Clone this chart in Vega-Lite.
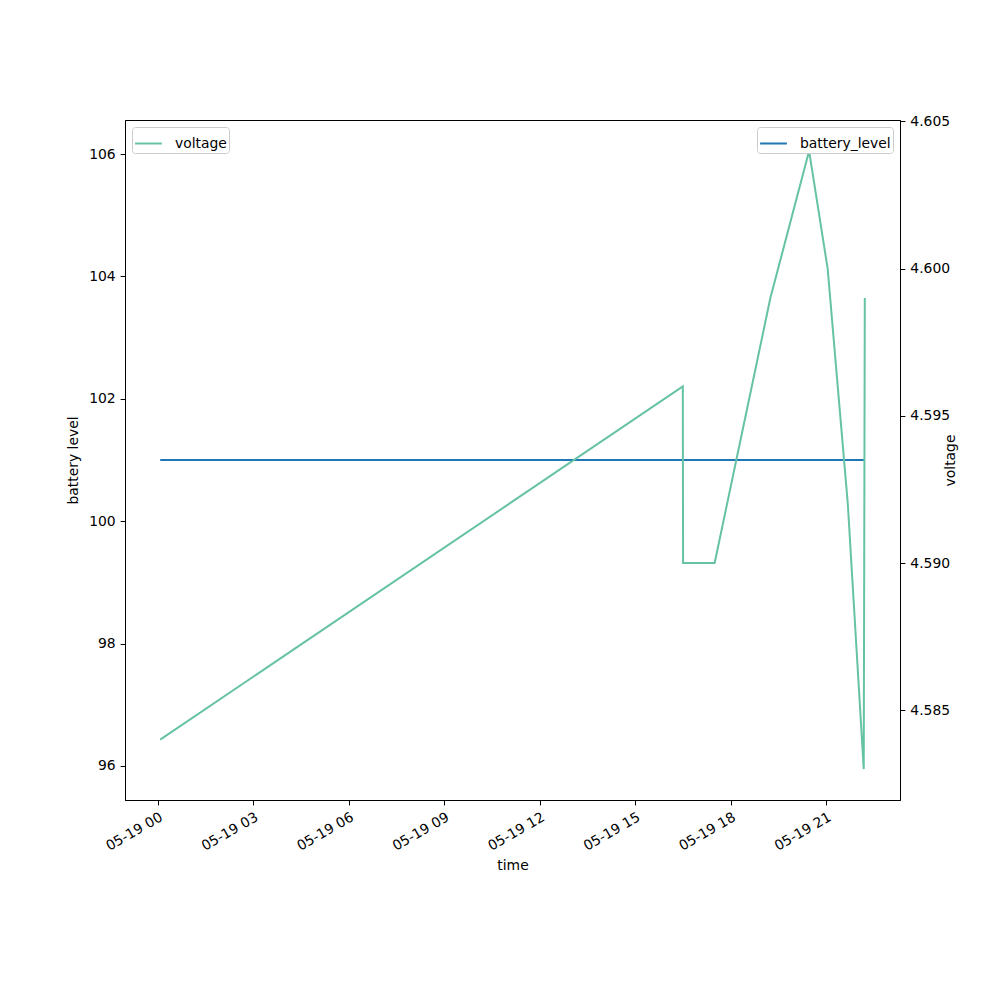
{
  "$schema": "https://vega.github.io/schema/vega-lite/v6.json",
  "autosize": "none",
  "padding": {"left": 125, "top": 120, "right": 100, "bottom": 200},
  "width": 775,
  "height": 680,
  "background": "white",
  "config": {
    "font": "DejaVu Sans",
    "view": {"stroke": "black", "strokeWidth": 1},
    "axis": {
      "grid": false,
      "domainColor": "black",
      "tickColor": "black",
      "labelColor": "black",
      "titleColor": "black",
      "labelFontSize": 13.9,
      "titleFontSize": 13.9,
      "titleFontWeight": "normal",
      "tickSize": 4.9,
      "labelPadding": 4.9
    },
    "legend": {
      "labelFontSize": 13.9,
      "labelColor": "black",
      "fillColor": "white",
      "strokeColor": "#cccccc",
      "cornerRadius": 3,
      "padding": 2,
      "offset": 7,
      "symbolType": "stroke",
      "symbolSize": 720,
      "symbolStrokeWidth": 2,
      "labelOffset": 12
    }
  },
  "data": {
    "values": [
      {"time": "2023-05-19T00:05:00", "battery_level": 101, "voltage": 4.584},
      {"time": "2023-05-19T16:30:00", "battery_level": 101, "voltage": 4.596},
      {"time": "2023-05-19T16:30:30", "battery_level": 101, "voltage": 4.590},
      {"time": "2023-05-19T17:30:00", "battery_level": 101, "voltage": 4.590},
      {"time": "2023-05-19T19:15:00", "battery_level": 101, "voltage": 4.599},
      {"time": "2023-05-19T20:28:00", "battery_level": 101, "voltage": 4.604},
      {"time": "2023-05-19T21:03:00", "battery_level": 101, "voltage": 4.600},
      {"time": "2023-05-19T21:41:00", "battery_level": 101, "voltage": 4.592},
      {"time": "2023-05-19T22:11:00", "battery_level": 101, "voltage": 4.583},
      {"time": "2023-05-19T22:13:00", "battery_level": 101, "voltage": 4.599}
    ]
  },
  "layer": [
    {
      "mark": {"type": "line", "strokeWidth": 2},
      "encoding": {
        "x": {
          "field": "time",
          "type": "temporal",
          "title": "time",
          "scale": {"padding": 35.2, "nice": false},
          "axis": {
            "format": "%m-%d %H",
            "tickCount": 8,
            "labelAngle": -30,
            "labelAlign": "right",
            "labelBaseline": "top",
            "titlePadding": 5
          }
        },
        "y": {
          "field": "battery_level",
          "type": "quantitative",
          "title": "battery level",
          "scale": {"domain": [95.444, 106.556], "zero": false, "nice": false},
          "axis": {"values": [96, 98, 100, 102, 104, 106], "orient": "left", "titlePadding": 8}
        },
        "color": {
          "datum": "battery_level",
          "scale": {"range": ["#1f77b4"]},
          "legend": {"orient": "top-right", "title": null}
        }
      }
    },
    {
      "mark": {"type": "line", "strokeWidth": 2},
      "encoding": {
        "x": {"field": "time", "type": "temporal"},
        "y": {
          "field": "voltage",
          "type": "quantitative",
          "title": "voltage",
          "scale": {"domain": [4.58195, 4.60505], "zero": false, "nice": false},
          "axis": {"values": [4.585, 4.59, 4.595, 4.6, 4.605], "format": ".3f", "orient": "right", "titlePadding": 8, "titleAngle": 270}
        },
        "color": {
          "datum": "voltage",
          "scale": {"range": ["#66c2a5"]},
          "legend": {"orient": "top-left", "title": null}
        }
      }
    }
  ],
  "resolve": {"scale": {"y": "independent", "color": "independent"}}
}
